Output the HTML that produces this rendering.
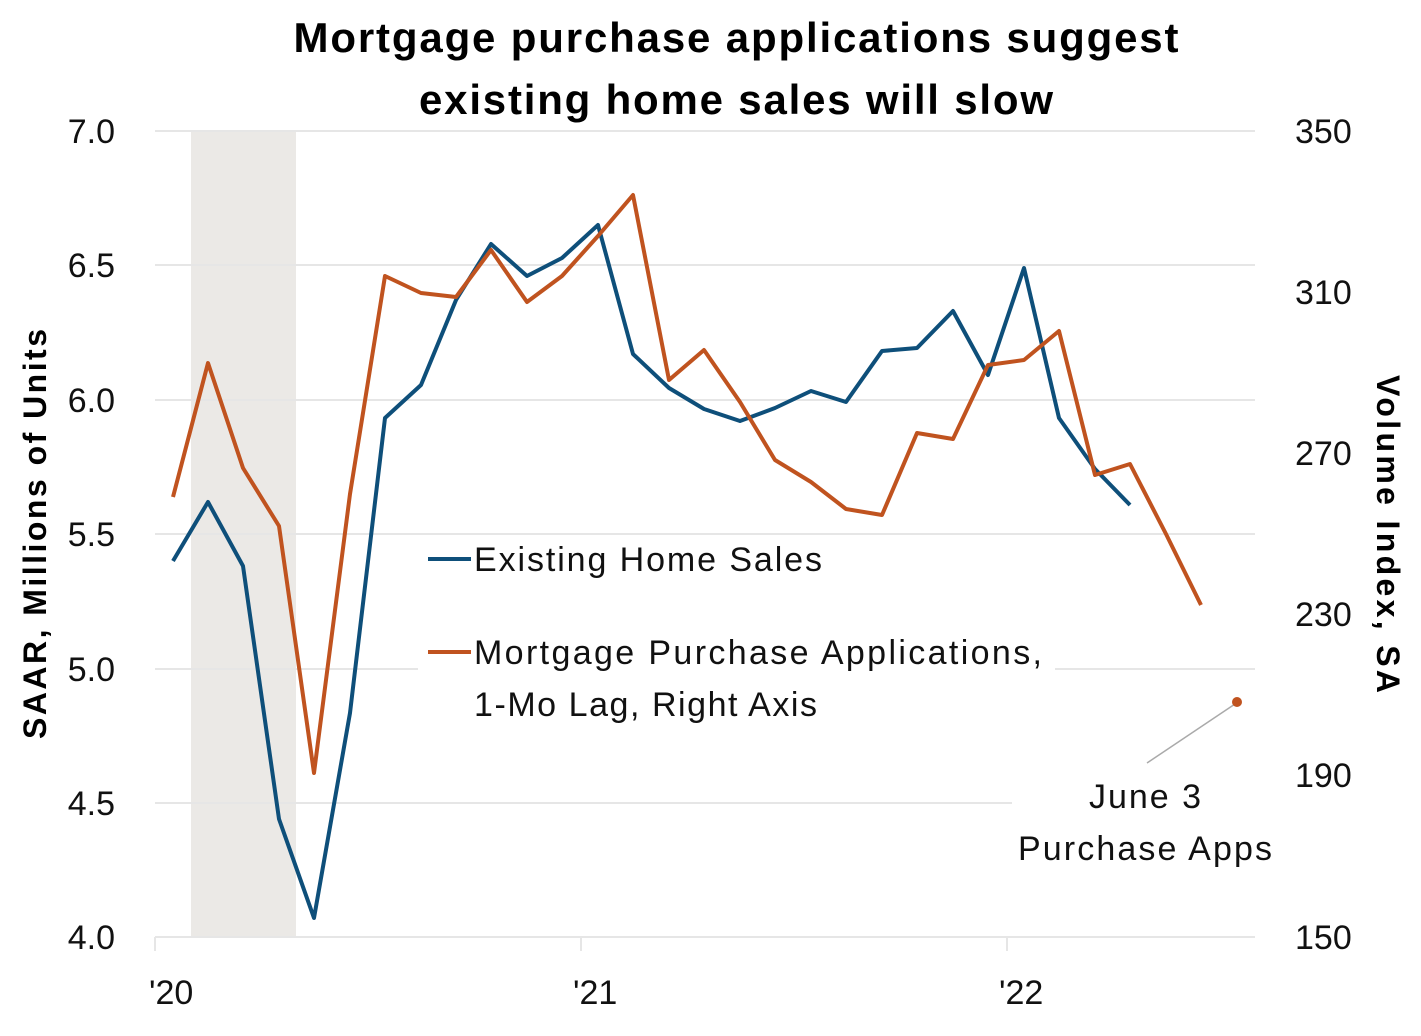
<!DOCTYPE html>
<html><head><style>body{margin:0;background:#fff}</style></head><body>
<svg width="1421" height="1031" xmlns="http://www.w3.org/2000/svg" font-family="Liberation Sans, sans-serif">
<rect width="1421" height="1031" fill="#fff"/>
<rect x="191" y="131" width="105" height="806" fill="#ebe9e6"/>
<g stroke="#e6e6e6" stroke-width="2">
<line x1="155" x2="1255" y1="131" y2="131"/>
<line x1="155" x2="1255" y1="265" y2="265"/>
<line x1="155" x2="1255" y1="400" y2="400"/>
<line x1="155" x2="1255" y1="534" y2="534"/>
<line x1="155" x2="418" y1="669" y2="669"/>
<line x1="1055" x2="1255" y1="669" y2="669"/>
<line x1="155" x2="1012" y1="803" y2="803"/>
<line x1="155" x2="1255" y1="937" y2="937"/>
<line x1="155" x2="155" y1="937" y2="951"/>
<line x1="581" x2="581" y1="937" y2="951"/>
<line x1="1007" x2="1007" y1="937" y2="951"/>
</g>
<g font-size="34" fill="#111">
<text x="115" y="143" text-anchor="end">7.0</text>
<text x="115" y="277" text-anchor="end">6.5</text>
<text x="115" y="412" text-anchor="end">6.0</text>
<text x="115" y="546" text-anchor="end">5.5</text>
<text x="115" y="681" text-anchor="end">5.0</text>
<text x="115" y="815" text-anchor="end">4.5</text>
<text x="115" y="949" text-anchor="end">4.0</text>
<text x="1295" y="143">350</text>
<text x="1295" y="304">310</text>
<text x="1295" y="465">270</text>
<text x="1295" y="626">230</text>
<text x="1295" y="787">190</text>
<text x="1295" y="949">150</text>
<text x="149" y="1004">'20</text>
<text x="573" y="1004">'21</text>
<text x="999" y="1004">'22</text>
</g>
<text x="736" y="52" text-anchor="middle" font-size="42" font-weight="bold" textLength="885">Mortgage purchase applications suggest</text>
<text x="736" y="114" text-anchor="middle" font-size="42" font-weight="bold" textLength="634">existing home sales will slow</text>
<text transform="translate(46,534) rotate(-90)" text-anchor="middle" font-size="32" font-weight="bold" textLength="410">SAAR, Millions of Units</text>
<text transform="translate(1377,534) rotate(90)" text-anchor="middle" font-size="32" font-weight="bold" textLength="318">Volume Index, SA</text>
<polyline fill="none" stroke="#0e4f7a" stroke-width="4" stroke-linejoin="round" points="173,561 208,502 243,566 279,819 314,918 350,713 385,418 421,385 456,300 491,244 527,276 562,258 598,225 633,354 669,388 704,409 740,421 775,408 811,391 846,402 882,351 917,348 953,311 988,375 1024,268 1059,418 1095,469 1130,505"/>
<polyline fill="none" stroke="#c0531f" stroke-width="4" stroke-linejoin="round" points="173,497 208,363 243,468 279,526 314,773 350,494 385,276 421,293 456,297 491,250 527,302 562,276 598,236 633,195 669,380 704,350 740,402 775,460 811,482 846,509 882,515 917,433 953,439 988,365 1024,360 1059,331 1095,475 1130,464 1166,534 1201,605"/>
<line x1="1147" y1="763" x2="1235" y2="704" stroke="#aaa" stroke-width="1.5"/>
<circle cx="1237" cy="702" r="5" fill="#c0531f"/>
<g font-size="34" fill="#111">
<text x="1145" y="808" text-anchor="middle" textLength="112">June 3</text>
<text x="1145" y="860" text-anchor="middle" textLength="254">Purchase Apps</text>
<text x="474" y="571" textLength="348">Existing Home Sales</text>
<text x="474" y="664" textLength="568">Mortgage Purchase Applications,</text>
<text x="474" y="716" textLength="343">1-Mo Lag, Right Axis</text>
</g>
<line x1="428" x2="471" y1="559" y2="559" stroke="#0e4f7a" stroke-width="4"/>
<line x1="428" x2="471" y1="652" y2="652" stroke="#c0531f" stroke-width="4"/>
</svg>
</body></html>
